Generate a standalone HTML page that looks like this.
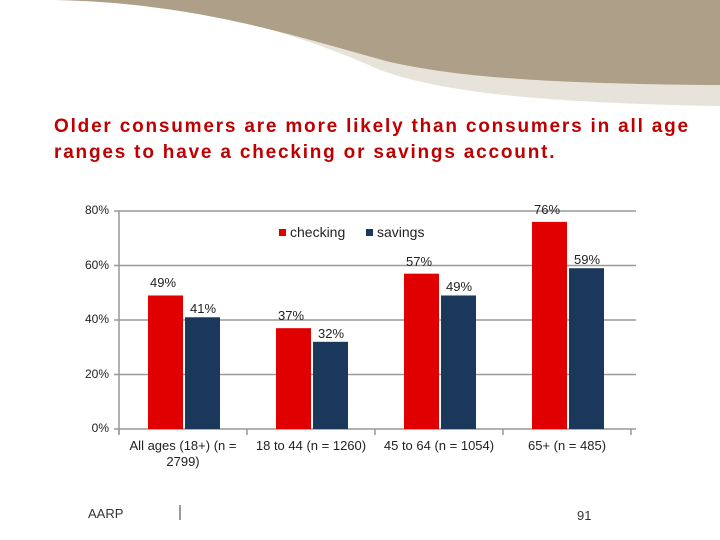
<!DOCTYPE html>
<html><head><meta charset="utf-8"><style>
body{margin:0;width:720px;height:540px;background:#fff;overflow:hidden;position:relative;font-family:"Liberation Sans",sans-serif}
.t{position:absolute;white-space:nowrap}
</style></head><body>
<svg width="720" height="540" style="position:absolute;left:0;top:0">
<path d="M60,0 C200,4 290,30 380,70 C450,95 560,103 720,106 L720,0 Z" fill="#e8e3da"/>
<path d="M55,0 C200,3 300,38 390,62 C460,78 560,84 720,85 L720,0 Z" fill="#ae9f88"/>
<g id="grid"></g>
<g id="bars"></g>
<line x1="180" y1="505" x2="180" y2="520" stroke="#333" stroke-width="1"/>
</svg>
<div class="t" style="left:54px;top:114px;color:#c00000;font-weight:bold;font-size:19px;letter-spacing:1.8px;line-height:26px">Older consumers are more likely than consumers in all age<br>ranges to have a checking or savings account.</div>
<div class="t" style="left:279px;top:224px;font-size:14px;color:#222"><span style="display:inline-block;width:7px;height:7px;background:#e00000;margin-right:4px;vertical-align:1px"></span>checking</div>
<div class="t" style="left:366px;top:224px;font-size:14px;color:#222"><span style="display:inline-block;width:7px;height:7px;background:#1a375c;margin-right:4px;vertical-align:1px"></span>savings</div>
<div class="t" style="left:88px;top:506px;font-size:13px;color:#333">AARP</div>
<div class="t" style="left:577px;top:508px;font-size:13px;color:#333">91</div>
<div id="labels"></div>
<script>
const categories=["All ages (18+) (n =<br>2799)","18 to 44 (n = 1260)","45 to 64 (n = 1054)","65+ (n = 485)"];
const checking=[49,37,57,76];
const savings=[41,32,49,59];
const yTicks=[0,20,40,60,80];
const X0=119,CW=128,Y0=429,PX=218/80;
const y=v=>Y0-v*PX;
const ns="http://www.w3.org/2000/svg";
const grid=document.getElementById('grid'),bars=document.getElementById('bars'),labels=document.getElementById('labels');
function sv(tag,a,p){const e=document.createElementNS(ns,tag);for(const k in a)e.setAttribute(k,a[k]);p.appendChild(e);return e;}
function lab(html,x,yy,extra){const d=document.createElement('div');d.className='t';d.innerHTML=html;d.style.cssText+=`left:${x}px;top:${yy}px;font-size:12px;color:#222;`+(extra||'');labels.appendChild(d);return d;}
yTicks.forEach(t=>{
 const l=sv('line',{x1:X0-5,x2:636,y1:y(t),y2:y(t),stroke:'#999','stroke-width':1.5},grid);
 
 
 const d=lab(t+'%',0,y(t)-8,'width:'+(X0-10)+'px;text-align:right;');
 
 
});
const ax=sv('line',{x1:X0,x2:X0,y1:y(80),y2:Y0+5,stroke:'#999','stroke-width':1.5},grid);


for(let i=0;i<=categories.length;i++){
 const tk=sv('line',{x1:X0+i*CW,x2:X0+i*CW,y1:Y0,y2:Y0+6,stroke:'#999','stroke-width':1.5},grid);
 
 
}
categories.forEach((c,i)=>{
 const gx=X0+i*CW;
 [[checking[i],'#e00000',29,'checking'],[savings[i],'#1a375c',66,'savings']].forEach(([v,col,off,nm])=>{
  const r=sv('rect',{x:gx+off,y:y(v),width:35,height:Y0-y(v),fill:col},bars);
  
  
  const d=lab(v+'%',gx+off+(nm=='checking'?2:5),y(v)-(nm=='checking'?20:16),'font-size:13px;');
  
  
 });
 const d=lab(c,gx+4,Y0+9,'width:'+(CW-8)+'px;text-align:center;font-size:13px;line-height:16px;');
 
 
});
</script>
</body></html>
